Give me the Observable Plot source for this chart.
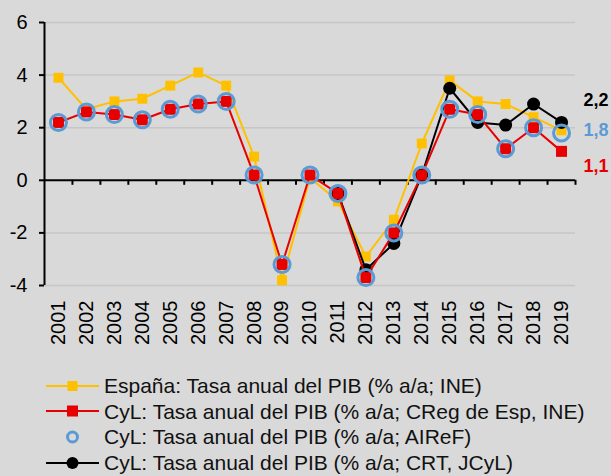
<!DOCTYPE html>
<html>
<head>
<meta charset="utf-8">
<script src="https://cdn.jsdelivr.net/npm/d3@7"></script>
<script src="https://cdn.jsdelivr.net/npm/@observablehq/plot@0.6"></script>
<style>
  html, body { margin: 0; padding: 0; background: #d9d9d9; width: 611px; height: 476px; overflow: hidden; }
  body { font-family: "Liberation Sans", Arial, sans-serif; }
  #chart svg { display: block; }
  #legend { padding-left: 46px; margin-top: 3px; }
  .row { display: flex; align-items: center; height: 25.6px; font-size: 21px; color: #111; white-space: nowrap; line-height: 1; }
  .row svg { flex: none; margin-right: 5px; }
</style>
</head>
<body>
<div id="chart"></div>
<div id="legend"></div>
<script>
// ---- data ----
const years = [2001, 2002, 2003, 2004, 2005, 2006, 2007, 2008, 2009, 2010, 2011, 2012, 2013, 2014, 2015, 2016, 2017, 2018, 2019];
const espana = [3.9, 2.7, 3.0, 3.1, 3.6, 4.1, 3.6, 0.9, -3.8, 0.1, -0.8, -2.9, -1.5, 1.4, 3.8, 3.0, 2.9, 2.4, 1.9];
const cylCReg = [2.2, 2.6, 2.5, 2.3, 2.7, 2.9, 3.0, 0.2, -3.2, 0.2, -0.5, -3.7, -2.0, 0.2, 2.7, 2.5, 1.2, 2.0, 1.1];
const cylAIReF = [2.2, 2.6, 2.5, 2.3, 2.7, 2.9, 3.0, 0.2, -3.2, 0.2, -0.5, -3.7, -2.0, 0.2, 2.7, 2.5, 1.2, 2.0, 1.8];
const cylCRT = [null, null, null, null, null, null, null, null, null, null, -0.5, -3.4, -2.4, 0.2, 3.5, 2.2, 2.1, 2.9, 2.2];
const yTicks = [-4, -2, 0, 2, 4, 6];
const seriesNames = [
  "España: Tasa anual del PIB (% a/a; INE)",
  "CyL: Tasa anual del PIB (% a/a; CReg de Esp, INE)",
  "CyL: Tasa anual del PIB (% a/a; AIReF)",
  "CyL: Tasa anual del PIB (% a/a; CRT, JCyL)"
];
const endLabels = ["2,2", "1,8", "1,1"];

// ---- styles ----
const YELLOW = "#ffc000", RED = "#e60000", BLUE = "#5b9bd5", BLACK = "#000000";

const rows = years.map((y, i) => ({year: y, espana: espana[i], creg: cylCReg[i], airef: cylAIReF[i], crt: cylCRT[i]}));
const crtRows = rows.filter(d => d.crt != null);
const xMin = years[0] - 0.5, xMax = years[years.length - 1] + 0.5;
const boundaries = years.map(y => y + 0.5);
const gridTicks = yTicks.filter(v => v !== 0);
const last = rows[rows.length - 1];

const endDefs = [
  {text: endLabels[0], value: last.crt, fill: BLACK, dy: -22},
  {text: endLabels[1], value: last.airef, fill: BLUE, dy: -3},
  {text: endLabels[2], value: last.creg, fill: RED, dy: 15}
];

const chart = Plot.plot({
  width: 611,
  height: 370,
  marginLeft: 44,
  marginRight: 36,
  marginTop: 22,
  marginBottom: 85,
  x: {type: "linear", domain: [xMin, xMax], label: null},
  y: {domain: [yTicks[0], yTicks[yTicks.length - 1]], label: null},
  style: {background: "transparent", fontFamily: "'Liberation Sans', Arial, sans-serif", color: "#000", overflow: "visible"},
  marks: [
    Plot.ruleY(gridTicks, {stroke: "#c6c6c6", strokeWidth: 1.5}),
    Plot.ruleX(boundaries, {x: d => d, y1: 0, y2: -0.19, stroke: BLACK, strokeWidth: 2}),
    Plot.ruleY([0], {stroke: BLACK, strokeWidth: 2}),
    Plot.ruleX([xMin], {stroke: BLACK, strokeWidth: 2}),
    Plot.axisY({ticks: yTicks, tickSize: 5, tickPadding: 12, fontSize: 20, strokeWidth: 2, label: null, tickFormat: d => String(d)}),
    Plot.axisX({ticks: years, tickSize: 0, tickPadding: 15, tickRotate: -90, fontSize: 20, label: null, tickFormat: d => String(d)}),
    // España
    Plot.line(rows, {x: "year", y: "espana", stroke: YELLOW, strokeWidth: 2}),
    Plot.dot(rows, {x: "year", y: "espana", symbol: "square", r: 5.6, fill: YELLOW}),
    // CRT
    Plot.line(crtRows, {x: "year", y: "crt", stroke: BLACK, strokeWidth: 2}),
    Plot.dot(crtRows, {x: "year", y: "crt", r: 6.5, fill: BLACK}),
    // CReg
    Plot.line(rows, {x: "year", y: "creg", stroke: RED, strokeWidth: 2}),
    Plot.dot(rows, {x: "year", y: "creg", symbol: "square", r: 6.2, fill: RED}),
    // AIReF
    Plot.dot(rows, {x: "year", y: "airef", r: 8, stroke: BLUE, strokeWidth: 3, fill: "none"}),
    // end labels
    ...endDefs.map(d => Plot.text([d], {x: () => last.year, y: e => e.value, text: e => e.text, fill: d.fill, dx: 22, dy: d.dy, textAnchor: "start", fontWeight: "bold", fontSize: 18}))
  ]
});
document.getElementById("chart").appendChild(chart);

// ---- legend ----
const legendDefs = [
  {name: seriesNames[0], line: YELLOW, marker: "square", fill: YELLOW, size: 10},
  {name: seriesNames[1], line: RED, marker: "square", fill: RED, size: 11},
  {name: seriesNames[2], line: null, marker: "ring", fill: BLUE, size: 5},
  {name: seriesNames[3], line: BLACK, marker: "circle", fill: BLACK, size: 6}
];
const legend = d3.select("#legend");
legendDefs.forEach(d => {
  const row = legend.append("div").attr("class", "row");
  const s = row.append("svg").attr("width", 53).attr("height", 26);
  if (d.line) s.append("line").attr("x1", 0).attr("x2", 53).attr("y1", 13).attr("y2", 13).attr("stroke", d.line).attr("stroke-width", 2);
  if (d.marker === "square") s.append("rect").attr("x", 26.5 - d.size / 2).attr("y", 13 - d.size / 2).attr("width", d.size).attr("height", d.size).attr("fill", d.fill);
  else if (d.marker === "ring") s.append("circle").attr("cx", 26.5).attr("cy", 13).attr("r", d.size).attr("fill", "none").attr("stroke", d.fill).attr("stroke-width", 3);
  else s.append("circle").attr("cx", 26.5).attr("cy", 13).attr("r", d.size).attr("fill", d.fill);
  row.append("span").text(d.name);
});
</script>
</body>
</html>
